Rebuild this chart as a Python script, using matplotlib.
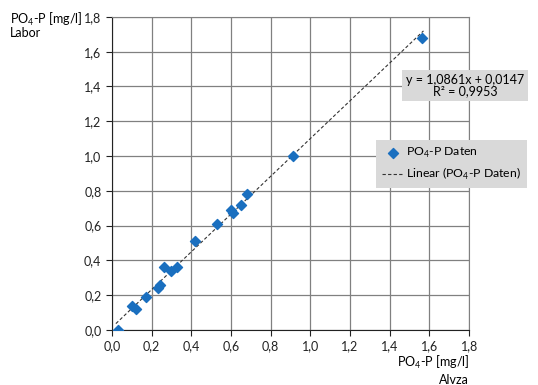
import numpy as np
import matplotlib.pyplot as plt
from matplotlib.ticker import FuncFormatter, MultipleLocator

plt.rcParams["font.family"] = ["Lato", "DejaVu Sans"]
plt.rcParams["mathtext.fontset"] = "custom"
plt.rcParams["mathtext.rm"] = "Lato"

# Messwerte: Alvza (x) gegen Labor (y)
alvza = [0.03, 0.10, 0.12, 0.17, 0.23, 0.24, 0.26, 0.30, 0.33, 0.42,
         0.53, 0.60, 0.61, 0.65, 0.68, 0.91, 1.56]
labor = [0.00, 0.14, 0.12, 0.19, 0.24, 0.26, 0.36, 0.34, 0.36, 0.51,
         0.61, 0.69, 0.67, 0.72, 0.78, 1.00, 1.68]
# Trendlinie laut Excel
slope = 1.0861
intercept = 0.0147
r2 = 0.9953

blue = "#1a6fbf"
grey_bg = "#d9d9d9"

def komma(v, pos):
    return "{:.1f}".format(v).replace(".", ",")

fig = plt.figure(figsize=(5.38, 3.85), dpi=100)
ax = fig.add_axes([0.208, 0.143, 0.664, 0.813])

ax.scatter(alvza, labor, marker="D", s=26, color=blue, zorder=3,
           label="PO$_4$-P Daten")
xs = np.array([min(alvza) - 0.01, max(alvza) + 0.01])
ax.plot(xs, slope * xs + intercept, "--", color="#333333", lw=0.8,
        dashes=(3, 2), zorder=2, label="Linear (PO$_4$-P Daten)")

ax.set_xlim(0, 1.8)
ax.set_ylim(0, 1.8)
ax.xaxis.set_major_locator(MultipleLocator(0.2))
ax.yaxis.set_major_locator(MultipleLocator(0.2))
ax.xaxis.set_major_formatter(FuncFormatter(komma))
ax.yaxis.set_major_formatter(FuncFormatter(komma))
ax.grid(True, color="#808080", lw=0.9)
ax.set_axisbelow(True)
for s in ["top", "right"]:
    ax.spines[s].set_color("#808080")
for s in ["left", "bottom"]:
    ax.spines[s].set_color("#222222")
ax.tick_params(direction="out", length=4, labelsize=9, colors="#222222")

fig.text(0.019, 0.972, "PO$_4$-P [mg/l]\nLabor", fontsize=9, va="top",
         ha="left", linespacing=0.95)
fig.text(0.872, 0.058, "PO$_4$-P [mg/l]", fontsize=9, ha="right", va="center")
fig.text(0.872, 0.012, "Alvza", fontsize=9, ha="right", va="center")

eq = "y = {}x + {}\nR² = {}".format(
    str(slope).replace(".", ","), str(intercept).replace(".", ","),
    str(r2).replace(".", ","))
fig.text(0.864, 0.777, eq, fontsize=9, ha="center", va="center",
         multialignment="center", linespacing=0.95,
         bbox=dict(boxstyle="square,pad=0.3", fc=grey_bg, ec="none"))

leg = ax.legend(loc="center left", bbox_to_anchor=(0.74, 0.53), fontsize=8.8,
                frameon=True, fancybox=False, handlelength=1.8,
                handletextpad=0.2, borderpad=0.45, labelspacing=0.5,
                borderaxespad=0)
leg.get_frame().set_facecolor(grey_bg)
leg.get_frame().set_edgecolor("none")
leg.get_frame().set_alpha(1)

fig.savefig("out.png", dpi=100)
